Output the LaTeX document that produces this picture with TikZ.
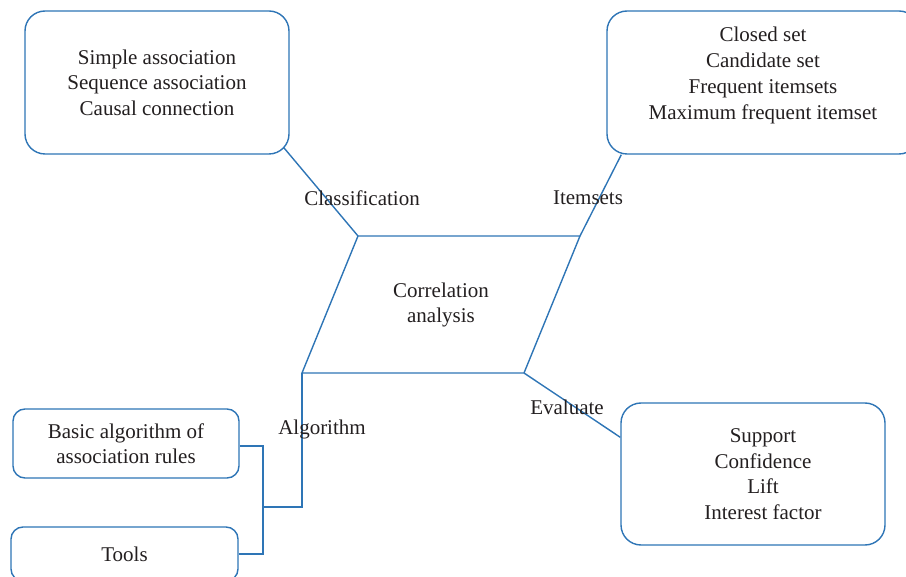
\documentclass[tikz,border=0pt]{standalone}
\usepackage{fontspec}
\setmainfont{Liberation Serif}
\usepackage{tikz}
\usetikzlibrary{calc}
\usetikzlibrary{backgrounds}
\definecolor{linkblue}{RGB}{46,117,182}
\definecolor{inkgray}{RGB}{35,31,32}

\begin{document}
\begin{tikzpicture}[x=1pt,y=-1pt,
	every node/.style={text=inkgray,font=\fontsize{21}{25.5}\selectfont},
	topicbox/.style={draw=linkblue,line width=1.4pt,fill=white,align=center,rounded corners=20pt,inner sep=0pt},
	link/.style={draw=linkblue,line width=1.4pt}]
\useasboundingbox (0,0) rectangle (906,577);
\clip (0,0) rectangle (906,577);
% the parallelogram in the middle
\coordinate (pTL) at (358,236);
\coordinate (pTR) at (580,236);
\coordinate (pBR) at (524,373);
\coordinate (pBL) at (302,373);
\draw[link,line join=miter] (pTL) -- (pTR) -- (pBR) -- (pBL) -- cycle;
\node[align=center] (cor) at (441,305) {Correlation\\analysis};
% the four topics
\node[topicbox,minimum width=264pt,minimum height=143pt] (cls) at (157,82.5) {Simple association\\Sequence association\\Causal connection};
\node[topicbox,minimum width=312pt,minimum height=143pt,
	label={[align=center,yshift=7pt,font=\fontsize{21}{26}\selectfont]center:{Closed set\\Candidate set\\Frequent itemsets\\Maximum frequent itemset}}] (its) at (763,82.5) {};
\node[topicbox,minimum width=264pt,minimum height=142pt,
	label={[align=center,xshift=10pt]center:{Support\\Confidence\\Lift\\Interest factor}}] (eva) at (753,474) {};
\node[topicbox,rounded corners=12pt,minimum width=226pt,minimum height=69pt] (basic) at (126,443.5) {Basic algorithm of\\association rules};
\node[topicbox,rounded corners=12pt,minimum width=227pt,minimum height=54pt] (tools) at (124.5,554) {Tools};
\coordinate (join) at (263,507);
% labels on the links
\node (lcls) at (362,198) {Classification};
\node (lits) at (588,198) {Itemsets};
\node (lalg) at (322,429) {Algorithm};
\node (leva) at (567,407) {Evaluate};
\begin{scope}[on background layer]
	\draw[link] (pTL) -- ($(pTL)!1.12!(cls.south east)$);
	\draw[link] (pTR) -- ($(its.south west)+(15,0)$);
	\draw[link] (pBR) -- ($(eva.north west)+(0,35)$);
	\draw[link] (pBL) |- (join);
	\draw[link] ($(basic.east)+(0,2.5)$) -| (join);
	\draw[link] (tools.east) -| (join);
\end{scope}
\end{tikzpicture}
\end{document}
